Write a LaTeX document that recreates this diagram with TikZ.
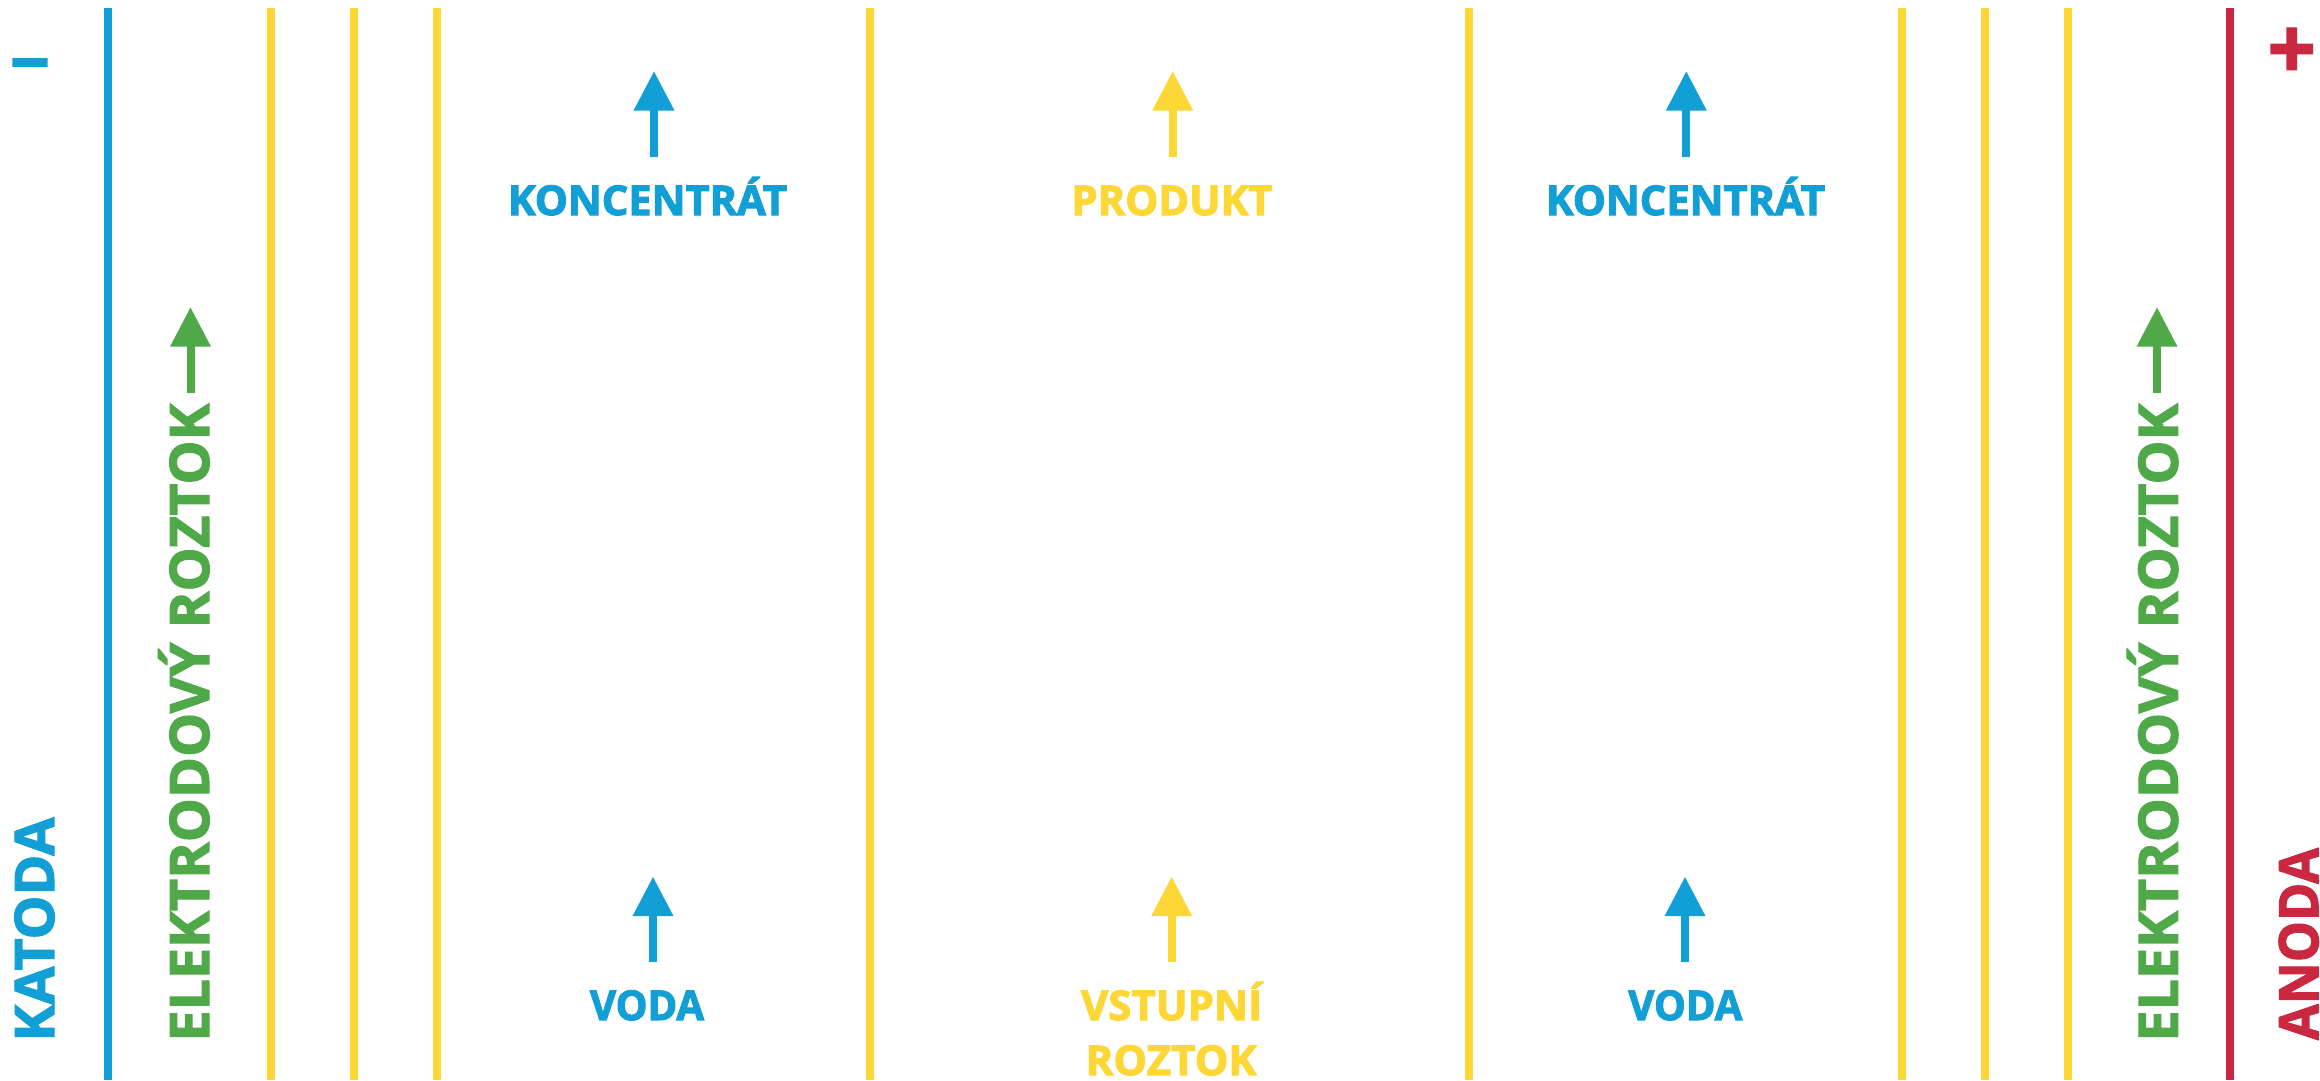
\documentclass[tikz,border=0pt]{standalone}
\usepackage{fontspec}
\usetikzlibrary{arrows.meta}
\newfontfamily\rotfont{Open Sans}[BoldFeatures={FakeBold=2.0}]
\newfontfamily\horfont{Open Sans}[BoldFeatures={FakeBold=2.6}]
\definecolor{cblue}{HTML}{129FD6}
\definecolor{cyellow}{HTML}{FDD736}
\definecolor{cgreen}{HTML}{4FA949}
\definecolor{cred}{HTML}{C92840}
\newcommand{\fitw}[2]{\resizebox{#1pt}{\height}{#2}}
\tikzset{
  x=1pt,y=-1pt,
  wall/.style={line width=8pt},
  flow/.style={line width=8pt,-{Triangle[length=39.5pt,width=38.5pt]}},
  hlabel/.style={anchor=base west,inner sep=0pt,outer sep=0pt,font=\horfont\bfseries\fontsize{41}{41}\selectfont},
  vlabel/.style={anchor=base west,inner sep=0pt,outer sep=0pt,rotate=90,font=\rotfont\bfseries\fontsize{54.5}{54.5}\selectfont},
}
\begin{document}
\begin{tikzpicture}
\useasboundingbox (0,0) rectangle (2320,1081);
% walls
\foreach \n/\x/\c in {k/108/cblue,a/270.7/cyellow,b/353.5/cyellow,c/437/cyellow,d/869.7/cyellow,e/1468.7/cyellow,f/1901.7/cyellow,g/1984.5/cyellow,h/2068/cyellow,i/2230.3/cred}{
  \coordinate (w\n t) at (\x,8);
  \coordinate (w\n b) at (\x,1080);
  \draw[wall,\c] (w\n t) -- (w\n b);
}
% arrows
\foreach \n/\x/\b/\t/\c in {a/654/157/71/cblue,b/1172.7/157/71/cyellow,c/1686.3/157/71/cblue,d/653/962/876.5/cblue,e/1171.7/962/876.5/cyellow,f/1685/962/876.5/cblue,g/190.5/393/307/cgreen,h/2157/393/307/cgreen}{
  \coordinate (f\n s) at (\x,\b);
  \coordinate (f\n e) at (\x,\t);
  \draw[flow,\c] (f\n s) -- (f\n e);
}
% horizontal labels
\node[hlabel,text=cblue] (konc1) at (508,215) {\fitw{279}{KONCENTRÁT}};
\node[hlabel,text=cyellow] (prod) at (1071.5,215) {\fitw{201}{PRODUKT}};
\node[hlabel,text=cblue] (konc2) at (1546,215) {\fitw{279}{KONCENTRÁT}};
\node[hlabel,text=cblue] (voda1) at (590,1020) {\fitw{114}{VODA}};
\node[hlabel,text=cyellow] (vst) at (1081,1020) {\fitw{181}{VSTUPNÍ}};
\node[hlabel,text=cyellow] (roz) at (1085.5,1075) {\fitw{171}{ROZTOK}};
\node[hlabel,text=cblue] (voda2) at (1628.3,1020) {\fitw{114}{VODA}};
% rotated labels
\node[vlabel,text=cblue] (kat) at (54,1041.5) {\fitw{224}{KATODA}};
\node[vlabel,text=cgreen] (el1) at (209,1041.5) {\fitw{638}{ELEKTRODOVÝ ROZTOK}};
\node[vlabel,text=cgreen] (el2) at (2177.7,1041.5) {\fitw{638}{ELEKTRODOVÝ ROZTOK}};
\node[vlabel,text=cred] (ano) at (2318.2,1040) {\fitw{192}{ANODA}};
% signs
\node[anchor=center,inner sep=0pt,text=cblue,font=\rotfont\bfseries\fontsize{70}{70}\selectfont] (minus) at (30,73) {−};
\node[anchor=center,inner sep=0pt,text=cred,font=\rotfont\bfseries\fontsize{85}{85}\selectfont] (plus) at (2291.7,53.5) {+};
\end{tikzpicture}
\end{document}
